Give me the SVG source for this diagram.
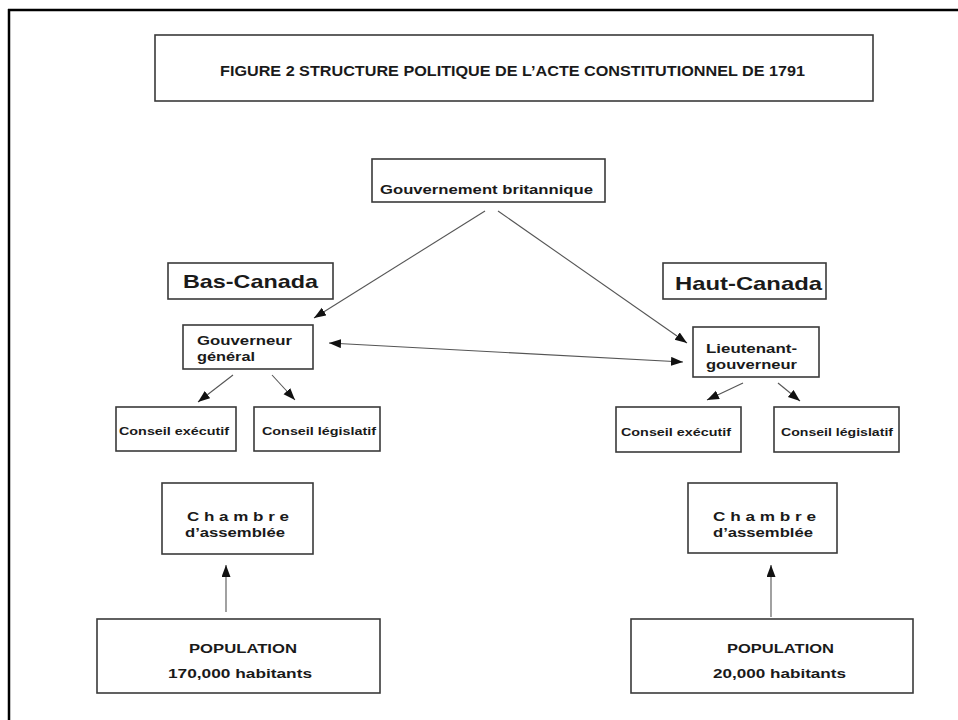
<svg xmlns="http://www.w3.org/2000/svg" width="958" height="720" viewBox="0 0 958 720">
<defs>
<marker id="ah" markerUnits="userSpaceOnUse" markerWidth="13" markerHeight="10" refX="12" refY="4.5" orient="auto-start-reverse">
<path d="M0,0 L12,4.5 L0,9 Z" fill="#111"/>
</marker>
<style>
.box{fill:#fff;stroke:#3a3a3a;stroke-width:1.6}
.t{font-family:"Liberation Sans",Arial,sans-serif;font-weight:bold;fill:#1a1a1a}
.c{stroke:#555;stroke-width:1.1;fill:none;marker-end:url(#ah)}
</style>
</defs>
<rect width="958" height="720" fill="#fff"/>
<g id="frame">
<line x1="9" y1="9" x2="9" y2="720" stroke="#000" stroke-width="2.5"/>
<line x1="8" y1="10" x2="958" y2="10" stroke="#000" stroke-width="2.5"/>
</g>
<g id="title">
<rect class="box" x="155" y="35" width="718" height="66"/>
<text class="t" x="220" y="76" font-size="15.5" textLength="585" lengthAdjust="spacingAndGlyphs">FIGURE 2 STRUCTURE POLITIQUE DE L’ACTE CONSTITUTIONNEL DE 1791</text>
</g>
<g id="gouv-brit">
<rect class="box" x="372" y="159" width="233" height="43"/>
<text class="t" x="380" y="194" font-size="12.5" textLength="213" lengthAdjust="spacingAndGlyphs">Gouvernement britannique</text>
</g>
<g id="bas-canada">
<rect class="box" x="168" y="263" width="165" height="36"/>
<text class="t" x="183" y="288" font-size="19" textLength="135" lengthAdjust="spacingAndGlyphs">Bas-Canada</text>
</g>
<g id="haut-canada">
<rect class="box" x="663" y="263" width="163" height="36"/>
<text class="t" x="675" y="290" font-size="19" textLength="147" lengthAdjust="spacingAndGlyphs">Haut-Canada</text>
</g>
<g id="gouverneur">
<rect class="box" x="183" y="325" width="130" height="44"/>
<text class="t" x="197" y="345" font-size="12.5" textLength="95" lengthAdjust="spacingAndGlyphs">Gouverneur</text>
<text class="t" x="197" y="361" font-size="12.5" textLength="58" lengthAdjust="spacingAndGlyphs">général</text>
</g>
<g id="lieutenant">
<rect class="box" x="693" y="327" width="126" height="50"/>
<text class="t" x="706" y="353" font-size="12.5" textLength="91" lengthAdjust="spacingAndGlyphs">Lieutenant-</text>
<text class="t" x="706" y="369" font-size="12.5" textLength="91" lengthAdjust="spacingAndGlyphs">gouverneur</text>
</g>
<g id="ce-bas">
<rect class="box" x="116" y="407" width="120" height="44"/>
<text class="t" x="119" y="435" font-size="11" textLength="110" lengthAdjust="spacingAndGlyphs">Conseil exécutif</text>
</g>
<g id="cl-bas">
<rect class="box" x="254" y="407" width="126" height="44"/>
<text class="t" x="262" y="435" font-size="11" textLength="114" lengthAdjust="spacingAndGlyphs">Conseil législatif</text>
</g>
<g id="ce-haut">
<rect class="box" x="616" y="407" width="125" height="45"/>
<text class="t" x="621" y="436" font-size="11" textLength="110" lengthAdjust="spacingAndGlyphs">Conseil exécutif</text>
</g>
<g id="cl-haut">
<rect class="box" x="774" y="407" width="125" height="45"/>
<text class="t" x="781" y="436" font-size="11" textLength="112" lengthAdjust="spacingAndGlyphs">Conseil législatif</text>
</g>
<g id="chambre-bas">
<rect class="box" x="162" y="483" width="151" height="71"/>
<text class="t" x="187" y="521" font-size="12" textLength="102" lengthAdjust="spacingAndGlyphs">C h a m b r e</text>
<text class="t" x="185" y="537" font-size="12" textLength="100" lengthAdjust="spacingAndGlyphs">d’assemblée</text>
</g>
<g id="chambre-haut">
<rect class="box" x="688" y="483" width="149" height="70"/>
<text class="t" x="713" y="521" font-size="12" textLength="103" lengthAdjust="spacingAndGlyphs">C h a m b r e</text>
<text class="t" x="713" y="537" font-size="12" textLength="100" lengthAdjust="spacingAndGlyphs">d’assemblée</text>
</g>
<g id="population-bas">
<rect class="box" x="97" y="619" width="283" height="74"/>
<text class="t" x="189" y="653" font-size="12.5" textLength="108" lengthAdjust="spacingAndGlyphs">POPULATION</text>
<text class="t" x="168" y="678" font-size="13" textLength="144" lengthAdjust="spacingAndGlyphs">170,000 habitants</text>
</g>
<g id="population-haut">
<rect class="box" x="631" y="619" width="282" height="74"/>
<text class="t" x="727" y="653" font-size="12.5" textLength="107" lengthAdjust="spacingAndGlyphs">POPULATION</text>
<text class="t" x="713" y="678" font-size="13" textLength="133" lengthAdjust="spacingAndGlyphs">20,000 habitants</text>
</g>
<g id="connectors">
<line class="c" x1="485" y1="211" x2="314" y2="318"/>
<line class="c" x1="498" y1="211" x2="687" y2="343"/>
<line class="c" x1="329" y1="343" x2="683" y2="362" marker-start="url(#ah)"/>
<line class="c" x1="233" y1="375" x2="198" y2="402"/>
<line class="c" x1="272" y1="375" x2="295" y2="400"/>
<line class="c" x1="743" y1="383" x2="707" y2="400"/>
<line class="c" x1="778" y1="383" x2="800" y2="401"/>
<line class="c" x1="226" y1="612" x2="226" y2="565"/>
<line class="c" x1="771" y1="617" x2="771" y2="565"/>
</g>
</svg>
